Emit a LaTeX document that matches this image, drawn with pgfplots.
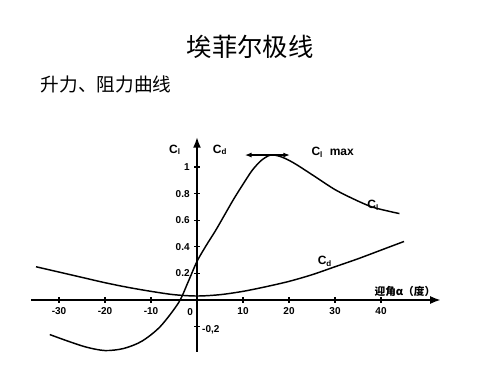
\documentclass[border=0pt]{standalone}
\usepackage{fontspec}
\setmainfont{Liberation Sans}
\newfontfamily\cjk{Noto Sans CJK SC}
\newfontfamily\cjkl{Noto Sans CJK SC Light}
\usepackage{pgfplots}
\pgfplotsset{compat=1.18}
\usetikzlibrary{arrows.meta}
\begin{document}
\begin{tikzpicture}
\path[use as bounding box] (0pt,0pt) rectangle (375pt,281.25pt);
\node[font=\cjk\fontsize{19}{22}\selectfont] at (187.5pt,246pt) {埃菲尔极线};
\node[font=\cjk\fontsize{14}{17}\selectfont, anchor=west] at (27pt,218pt) {升力、阻力曲线};
\begin{axis}[
  anchor=origin, at={(147.75pt,56.25pt)},
  x=3.45pt, y=99.75pt,
  xmin=-36, xmax=53, ymin=-0.39, ymax=1.225,
  axis lines=middle,
  axis line style={line width=1.3pt, -{Latex[length=8pt,width=6pt]}},
  xtick={-30,-20,-10,10,20,30,40},
  ytick={0.2,0.4,0.6,0.8,1},
  yticklabels={0.2,0.4,0.6,0.8,1},
  tick style={black, line width=0.8pt},
  major tick length=4pt,
  tick label style={font=\fontsize{7.5}{8}\selectfont\bfseries},
  /pgf/number format/assume math mode=true,
  clip=false,
]
\addplot[smooth, line width=1.1pt, black] coordinates {
(-32,-0.26) (-28,-0.31) (-24,-0.355) (-20,-0.38) (-16,-0.365) (-12,-0.31)
(-8,-0.2) (-4,-0.02) (-2,0.13) (0,0.29) (2,0.41) (4,0.52) (6,0.64)
(8,0.76) (10,0.87) (12,0.975) (14,1.05) (16,1.09) (18,1.08) (20,1.05)
(22,1.01) (26,0.92) (30,0.83) (34,0.76) (38,0.7) (42,0.665) (44,0.65)};
\addplot[smooth, line width=1.1pt, black] coordinates {
(-35,0.25) (-30,0.21) (-25,0.17) (-20,0.13) (-15,0.095) (-10,0.065)
(-5,0.04) (0,0.03) (5,0.04) (10,0.065) (15,0.1) (20,0.14) (25,0.19)
(30,0.25) (35,0.31) (40,0.375) (45,0.44)};
\draw[line width=0.9pt, {Latex[length=5pt]}-{Latex[length=5pt]}] (axis cs:10.4,1.09) -- (axis cs:20.2,1.09);
\node[font=\fontsize{9}{10}\selectfont\bfseries] at (axis cs:-4.8,1.13) {C\textsubscript{l}};
\node[font=\fontsize{9}{10}\selectfont\bfseries] at (axis cs:5,1.13) {C\textsubscript{d}};
\node[font=\fontsize{9}{10}\selectfont\bfseries] at (axis cs:29.5,1.11) {C\textsubscript{l}\ \ max};
\node[font=\fontsize{9}{10}\selectfont\bfseries] at (axis cs:38.3,0.71) {C\textsubscript{l}};
\node[font=\fontsize{9}{10}\selectfont\bfseries] at (axis cs:27.8,0.29) {C\textsubscript{d}};
\node[font=\cjk\fontsize{8}{9}\selectfont\bfseries] at (axis cs:45.2,0.065) {迎角α（度）};
\node[font=\fontsize{7.5}{8}\selectfont\bfseries] at (axis cs:-1.5,-0.09) {0};
\node[font=\fontsize{7.5}{8}\selectfont\bfseries] at (axis cs:3,-0.225) {-0,2};
\draw[line width=0.8pt] (axis cs:-0.6,-0.2) -- (axis cs:0.6,-0.2);
\end{axis}
\end{tikzpicture}
\end{document}
